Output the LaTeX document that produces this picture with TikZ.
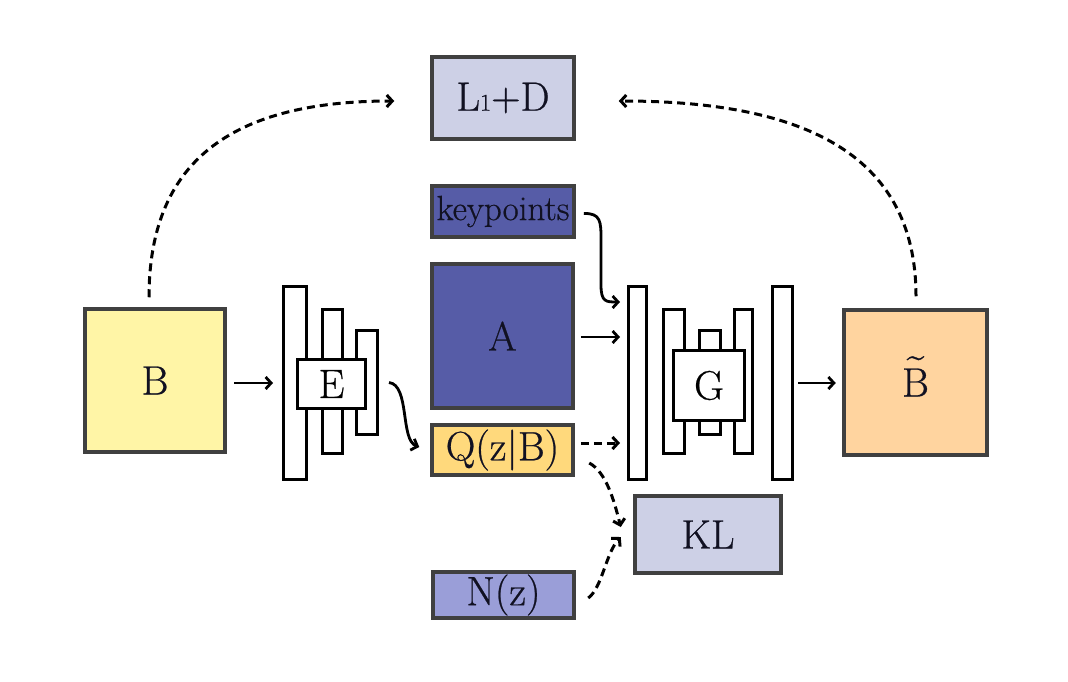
\documentclass[tikz,border=0pt]{standalone}
\usepackage{fontspec}
\usepackage{graphicx}
\setmainfont{Latin Modern Roman}[FakeBold=0.6]
\usetikzlibrary{arrows.meta}
\definecolor{bordergray}{HTML}{404040}
\definecolor{bfill}{HTML}{FFF5A6}
\definecolor{btfill}{HTML}{FFD49F}
\definecolor{afill}{HTML}{565CA7}
\definecolor{qfill}{HTML}{FFD97C}
\definecolor{lavfill}{HTML}{CDD0E6}
\definecolor{nfill}{HTML}{9A9ED8}
\definecolor{darktext}{HTML}{111122}
\newcommand\mytildeB{\leavevmode\ooalign{B\cr\hidewidth\raisebox{0.27em}{\scalebox{1.35}[1.1]{\char"02DC}}\hidewidth\cr}}
\begin{document}
\begin{tikzpicture}[x=1pt,y=-1pt,
  box/.style={draw=bordergray,line width=3.5pt,inner sep=0pt,text=darktext,font=\fontsize{41}{44}\selectfont},
  bar/.style={draw=black,line width=3pt,fill=white,inner sep=0pt},
  arr/.style={line width=2.8pt,-{Straight Barb[length=5.5pt,width=12pt]}},
  darr/.style={arr,line width=3pt,dash pattern=on 8pt off 5pt}]
\useasboundingbox (0,0) rectangle (1068,682);
\fill[white] (0,0) rectangle (1068,682);

% colored boxes
\node[box,fill=bfill,minimum width=140pt,minimum height=143pt] (B) at (155,380.5) {B};
\node[box,fill=btfill,minimum width=143pt,minimum height=145pt] (Bt) at (915.5,382.5) {\mytildeB};
\node[box,fill=lavfill,minimum width=142pt,minimum height=82pt] (L) at (503,98) {L{\fontsize{24}{24}\selectfont 1}+D};
\node[box,fill=afill,minimum width=142pt,minimum height=51pt,font=\fontsize{35}{40}\selectfont] (kp) at (503,211.5) {keypoints};
\node[box,fill=afill,minimum width=141pt,minimum height=144pt] (A) at (502.5,336) {A};
\node[box,fill=qfill,minimum width=141pt,minimum height=50pt] (Q) at (502.5,450) {Q(z|B)};
\node[box,fill=lavfill,minimum width=146pt,minimum height=77pt] (KL) at (708,534.5) {KL};
\node[box,fill=nfill,minimum width=141pt,minimum height=46pt] (N) at (503.5,595) {N(z)};

% encoder
\node[bar,minimum width=23pt,minimum height=193pt] (e1) at (295,383) {};
\node[bar,minimum width=20pt,minimum height=144pt] (e2) at (332.5,381.5) {};
\node[bar,minimum width=21pt,minimum height=104pt] (e3) at (367,382.5) {};
\node[bar,minimum width=68pt,minimum height=49pt,font=\fontsize{41}{44}\selectfont] (E) at (331.5,384) {E};

% generator
\node[bar,minimum width=18pt,minimum height=193pt] (g1) at (637.5,383) {};
\node[bar,minimum width=21pt,minimum height=144pt] (g2) at (674,381.5) {};
\node[bar,minimum width=21pt,minimum height=104pt] (g3) at (710,382.5) {};
\node[bar,minimum width=18pt,minimum height=144pt] (g4) at (743.5,381.5) {};
\node[bar,minimum width=20pt,minimum height=193pt] (g5) at (782.5,383) {};
\node[bar,minimum width=71pt,minimum height=70pt,font=\fontsize{41}{44}\selectfont] (G) at (709,385.5) {G};

% connectors
\draw[arr] ([xshift=7.5pt,yshift=-2.5pt]B.east) -- ([xshift=-9pt,yshift=-2.5pt]B.east -| e1.west);
\draw[arr] ([xshift=10pt]e3.east) .. controls (410,385) and (400,440) .. ([xshift=-11pt,yshift=3pt]Q.west);
\path ([xshift=-7pt,yshift=81pt]g1.west) coordinate (kpin);
\draw[arr] ([xshift=8pt,yshift=-2pt]kp.east) .. controls (601,213) and (601,222) .. (601,240) -- (601,285) .. controls (601,302) and (606,302) .. (kpin);
\draw[arr] ([xshift=6pt,yshift=-1pt]A.east) -- ([xshift=-7pt,yshift=-1pt]A.east -| g1.west);
\path ([xshift=6pt,yshift=7pt]Q.east) coordinate (qa);
\draw[darr] (qa) -- ([xshift=-7pt]qa -| g1.west);
\draw[darr] ([xshift=14.5pt,yshift=-13pt]Q.east) .. controls (606,472) and (614,500) .. ([xshift=-12.5pt,yshift=7.5pt]KL.west);
\draw[darr] ([xshift=12.5pt,yshift=-3pt]N.east) .. controls (602,588) and (606,553) .. ([xshift=-12.5pt,yshift=-2.5pt]KL.west);
\draw[arr] ([xshift=4pt]g5.east) -- ([xshift=-6.5pt]g5.east -| Bt.west);
\draw[darr] ([xshift=-6pt,yshift=10pt]B.north) .. controls (149,164) and (228,101) .. ([xshift=-36pt,yshift=-3pt]L.west);
\draw[darr] ([xshift=0.5pt,yshift=12pt]Bt.north) .. controls (916,150) and (797,101) .. ([xshift=43pt,yshift=-3pt]L.east);
\end{tikzpicture}
\end{document}
